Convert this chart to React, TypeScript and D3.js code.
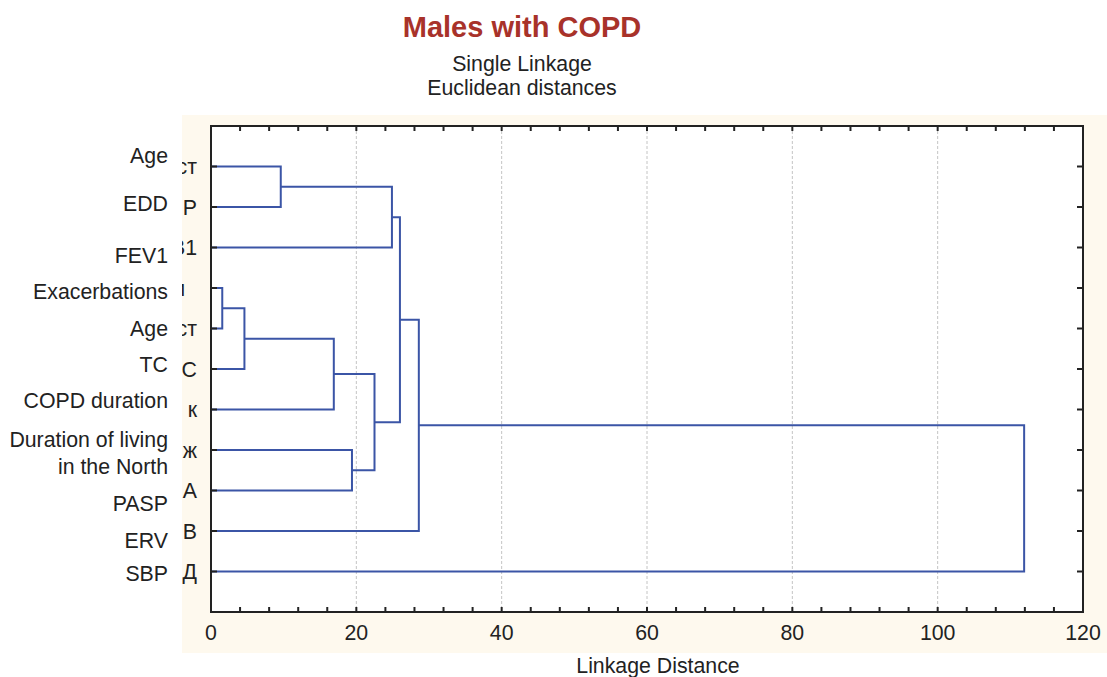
import React from "react";
import * as d3 from "d3";

// ---- data ----
const leafLabels = [
  "Age", "EDD", "FEV1", "Exacerbations", "Age", "TC", "COPD duration",
  "Duration of living\nin the North", "PASP", "ERV", "SBP",
];
// visible ends of the original (clipped) Russian variable codes
const leafCodes = [
  "ст", "Р", "В1", "и\u00A0\u00A0", "ст", "С", "к", "ж", "А", "В", "Д",
];
// merges: [childA, childB, linkage distance]; leaves 0..10, clusters 11+
const merges: [number, number, number][] = [
  [3, 4, 1.55],    // 11
  [11, 5, 4.6],    // 12
  [0, 1, 9.6],     // 13
  [12, 6, 16.9],   // 14
  [7, 8, 19.4],    // 15
  [14, 15, 22.5],  // 16
  [13, 2, 24.9],   // 17
  [17, 16, 26.0],  // 18
  [18, 9, 28.6],   // 19
  [19, 10, 111.9], // 20
];
const xTicks = [0, 20, 40, 60, 80, 100, 120];
const minorTicks = d3.range(0, 121, 4);
const gridTicks = [20, 40, 60, 80, 100];

// label centre positions (layout only)
const labelY = [155, 203, 255, 291, 328, 364, 400, 453, 503, 540, 573];

const W = 1107, H = 677;
const plot = { left: 211, right: 1083, top: 126, bottom: 612 };

export default function App() {
  const x = d3.scaleLinear().domain([0, 120]).range([plot.left, plot.right]);
  const y = d3.scaleLinear().domain([0, leafLabels.length + 1]).range([plot.top, plot.bottom]);

  const nodeX: number[] = [];
  const nodeY: number[] = [];
  leafLabels.forEach((_, i) => { nodeX[i] = x(0); nodeY[i] = y(i + 1); });
  const paths: string[] = [];
  merges.forEach(([a, b, h], k) => {
    const id = leafLabels.length + k;
    const xm = x(h);
    const p = d3.path();
    p.moveTo(nodeX[a], nodeY[a]);
    p.lineTo(xm, nodeY[a]);
    p.lineTo(xm, nodeY[b]);
    p.lineTo(nodeX[b], nodeY[b]);
    paths.push(p.toString());
    nodeX[id] = xm;
    nodeY[id] = (nodeY[a] + nodeY[b]) / 2;
  });

  const font = "'Liberation Sans', Arial, sans-serif";
  const blue = "#3b55a6";
  const fs = 21.3;

  return (
    <svg width={W} height={H} style={{ position: "absolute", left: 0, top: 0, background: "#fff" }} fontFamily={font}>
      <defs>
        <clipPath id="panelClip">
          <rect x={182} y={115} width={W - 182} height={538} />
        </clipPath>
      </defs>
      <rect x={182} y={115} width={W - 182} height={538} fill="#fef9ee" />
      <rect x={plot.left} y={plot.top} width={plot.right - plot.left} height={plot.bottom - plot.top} fill="#fff" />

      {/* title */}
      <text x={522} y={37} textAnchor="middle" fontSize={29} fontWeight="bold" fill="#a8322a">Males with COPD</text>
      <text x={522} y={71} textAnchor="middle" fontSize={fs} fill="#222">Single Linkage</text>
      <text x={522} y={95} textAnchor="middle" fontSize={fs} fill="#222">Euclidean distances</text>

      {/* grid */}
      {gridTicks.map((t) => (
        <line key={"g" + t} x1={x(t)} x2={x(t)} y1={plot.top} y2={plot.bottom} stroke="#c4c4c4" strokeWidth={1} strokeDasharray="3,2" />
      ))}

      {/* dendrogram */}
      {paths.map((d, i) => (
        <path key={"p" + i} d={d} fill="none" stroke={blue} strokeWidth={2} />
      ))}

      {/* frame */}
      <rect x={plot.left} y={plot.top} width={plot.right - plot.left} height={plot.bottom - plot.top} fill="none" stroke="#222" strokeWidth={2} />
      {minorTicks.map((t) => (
        <g key={"m" + t}>
          <line x1={x(t)} x2={x(t)} y1={plot.bottom} y2={plot.bottom - 5} stroke="#222" strokeWidth={2} />
          <line x1={x(t)} x2={x(t)} y1={plot.top} y2={plot.top + 5} stroke="#222" strokeWidth={2} />
        </g>
      ))}
      {leafLabels.map((_, i) => (
        <g key={"yt" + i}>
          <line x1={plot.left} x2={plot.left + 6} y1={y(i + 1)} y2={y(i + 1)} stroke="#222" strokeWidth={2} />
          <line x1={plot.right} x2={plot.right - 6} y1={y(i + 1)} y2={y(i + 1)} stroke="#222" strokeWidth={2} />
        </g>
      ))}

      {/* x tick labels */}
      {xTicks.map((t) => (
        <text key={"xl" + t} x={x(t)} y={640} textAnchor="middle" fontSize={fs} fill="#222">{t}</text>
      ))}
      <text x={658} y={673} textAnchor="middle" fontSize={fs} fill="#222">Linkage Distance</text>

      {/* clipped original codes */}
      <g clipPath="url(#panelClip)">
        {leafCodes.map((c, i) => (
          <text key={"c" + i} x={197} y={y(i + 1)} dy="0.36em" textAnchor="end" fontSize={fs} fill="#222" style={{ whiteSpace: "pre" }}>{c}</text>
        ))}
      </g>

      {/* English labels */}
      {leafLabels.map((l, i) => {
        const lines = l.split("\n");
        const y0 = labelY[i] - ((lines.length - 1) * 27) / 2;
        return (
          <text key={"l" + i} x={168} y={y0} textAnchor="end" fontSize={fs} fill="#222">
            {lines.map((s, j) => (
              <tspan key={j} x={168} dy={j === 0 ? "0.36em" : 27}>{s}</tspan>
            ))}
          </text>
        );
      })}
    </svg>
  );
}
